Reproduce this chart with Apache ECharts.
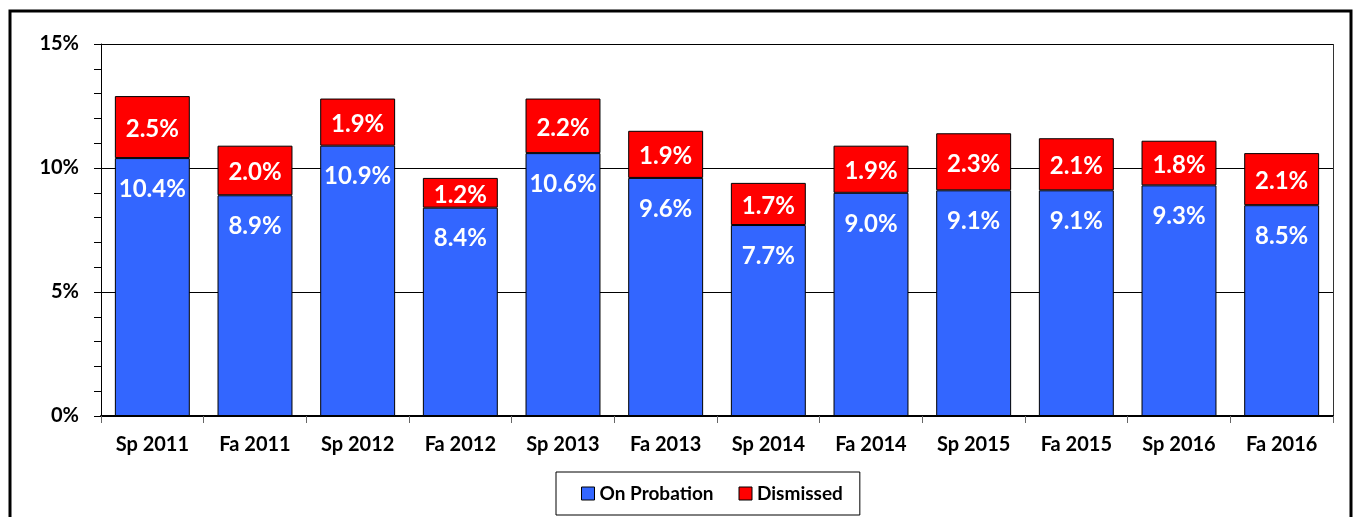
<!DOCTYPE html>
<html>
<head>
<meta charset="utf-8">
<title>Probation and Dismissal</title>
<script src="https://cdn.jsdelivr.net/npm/echarts@6/dist/echarts.min.js"></script>
<style>
	* { margin: 0; padding: 0; border: 0; }
	html, body { width: 100%; height: 100%; background: #fff; }
	#main { width: 1355px; height: 517px; }
</style>
</head>
<body>
<div id="main"></div>
<script type="text/javascript">
	// terms on the x axis
	var terms = ['Sp 2011', 'Fa 2011', 'Sp 2012', 'Fa 2012', 'Sp 2013', 'Fa 2013',
		'Sp 2014', 'Fa 2014', 'Sp 2015', 'Fa 2015', 'Sp 2016', 'Fa 2016'];
	// percent of students on probation / dismissed
	var probation = [10.4, 8.9, 10.9, 8.4, 10.6, 9.6, 7.7, 9.0, 9.1, 9.1, 9.3, 8.5];
	var dismissed = [2.5, 2.0, 1.9, 1.2, 2.2, 1.9, 1.7, 1.9, 2.3, 2.1, 1.8, 2.1];
	var yTicks = [0, 5, 10, 15];

	var FONT = 'Lato';

	var myChart = echarts.init(document.getElementById('main'));

	var option = {
		animation: false,
		textStyle: { fontFamily: FONT },
		graphic: [{
			type: 'rect',
			shape: { x: 10, y: 11, width: 1341, height: 520 },
			style: { fill: 'none', stroke: '#000', lineWidth: 3 },
			z: 100
		}, {
			// right edge of plot area
			type: 'line',
			shape: { x1: 1333.5, y1: 44, x2: 1333.5, y2: 416 },
			style: { stroke: '#333', lineWidth: 1 }
		}],
		legend: {
			left: 556,
			top: 472,
			padding: [12, 17, 12, 25],
			itemGap: 25,
			itemWidth: 13,
			itemHeight: 13,
			borderColor: '#000',
			borderWidth: 1,
			textStyle: { fontFamily: FONT, fontWeight: 'bold', fontSize: 19, color: '#000' },
			data: [
				{ name: 'On Probation', icon: 'rect', itemStyle: { borderColor: '#000', borderWidth: 1 } },
				{ name: 'Dismissed', icon: 'rect', itemStyle: { borderColor: '#000', borderWidth: 1 } }
			]
		},
		grid: {
			left: 101,
			right: 22,
			top: 44,
			bottom: 101
		},
		xAxis: {
			type: 'category',
			data: terms,
			axisLine: { lineStyle: { color: '#000', width: 2 } },
			axisTick: { show: true, length: 7, lineStyle: { color: '#666' } },
			axisLabel: {
				fontFamily: FONT, fontWeight: 'bold', fontSize: 20, color: '#000', margin: 19
			}
		},
		yAxis: {
			type: 'value',
			min: 0,
			max: 15,
			interval: 5,
			axisLine: { show: true, lineStyle: { color: '#000', width: 1 } },
			axisTick: { show: true, length: 7, lineStyle: { color: '#000' } },
			minorTick: { show: true, splitNumber: 5, length: 7, lineStyle: { color: '#000' } },
			splitLine: { show: true, lineStyle: { color: '#000', width: 1 } },
			axisLabel: {
				fontFamily: FONT, fontWeight: 'bold', fontSize: 20, color: '#000', margin: 22,
				formatter: function (v) { return yTicks.indexOf(v) >= 0 ? v + '%' : ''; }
			}
		},
		series: [{
			name: 'On Probation',
			type: 'bar',
			stack: 'total',
			barWidth: '73%',
			data: probation,
			itemStyle: { color: '#3366FF', borderColor: '#000', borderWidth: 1 },
			label: {
				show: true,
				position: 'insideTop',
				distance: 19,
				fontFamily: FONT, fontWeight: 'bold', fontSize: 24, color: '#fff',
				formatter: function (p) { return p.value.toFixed(1) + '%'; }
			}
		}, {
			name: 'Dismissed',
			type: 'bar',
			stack: 'total',
			data: dismissed,
			itemStyle: { color: '#FF0000', borderColor: '#000', borderWidth: 1 },
			label: {
				show: true,
				position: 'inside',
				offset: [0, 2],
				fontFamily: FONT, fontWeight: 'bold', fontSize: 24, color: '#fff',
				formatter: function (p) { return p.value.toFixed(1) + '%'; }
			}
		}]
	};

	myChart.setOption(option);
</script>
</body>
</html>
